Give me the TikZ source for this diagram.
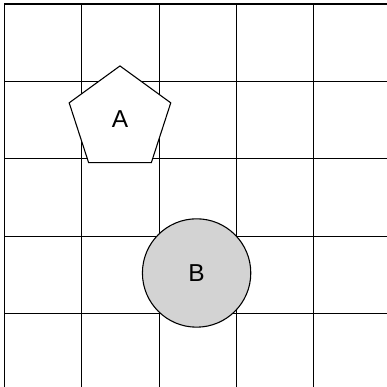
\documentclass[tikz,border=0pt]{standalone}
\usepackage{fontspec}
\setmainfont{Liberation Sans}
\usetikzlibrary{shapes.geometric}
\begin{document}
\begin{tikzpicture}[x=1cm,y=1cm,
  gridline/.style={draw=black,line width=0.4pt},
  shapelabel/.style={font=\fontsize{9}{10}\selectfont},
  pent/.style={regular polygon,regular polygon sides=5,draw=black,fill=white,minimum size=1.38cm,inner sep=0pt,line width=0.4pt},
  disc/.style={circle,draw=black,fill={rgb,255:red,211;green,211;blue,211},minimum size=1.4cm,inner sep=0pt,line width=0.4pt}]
\useasboundingbox (-0.055,0.052) rectangle (4.945,5.052);
\fill[white] (-0.055,0.052) rectangle (4.945,5.052);
\foreach \i in {0,1,2,3,4} {
  \draw[gridline] (\i,0.052) -- (\i,5);
}
\foreach \j in {1,2,3,4,5} {
  \draw[gridline] (0,\j) -- (4.945,\j);
}
\node[pent] (A) at (1.495,3.51) {};
\node[shapelabel] (Alabel) at (A.center) {A};
\node[disc] (B) at (2.485,1.525) {};
\node[shapelabel] (Blabel) at (B.center) {B};
\end{tikzpicture}
\end{document}
